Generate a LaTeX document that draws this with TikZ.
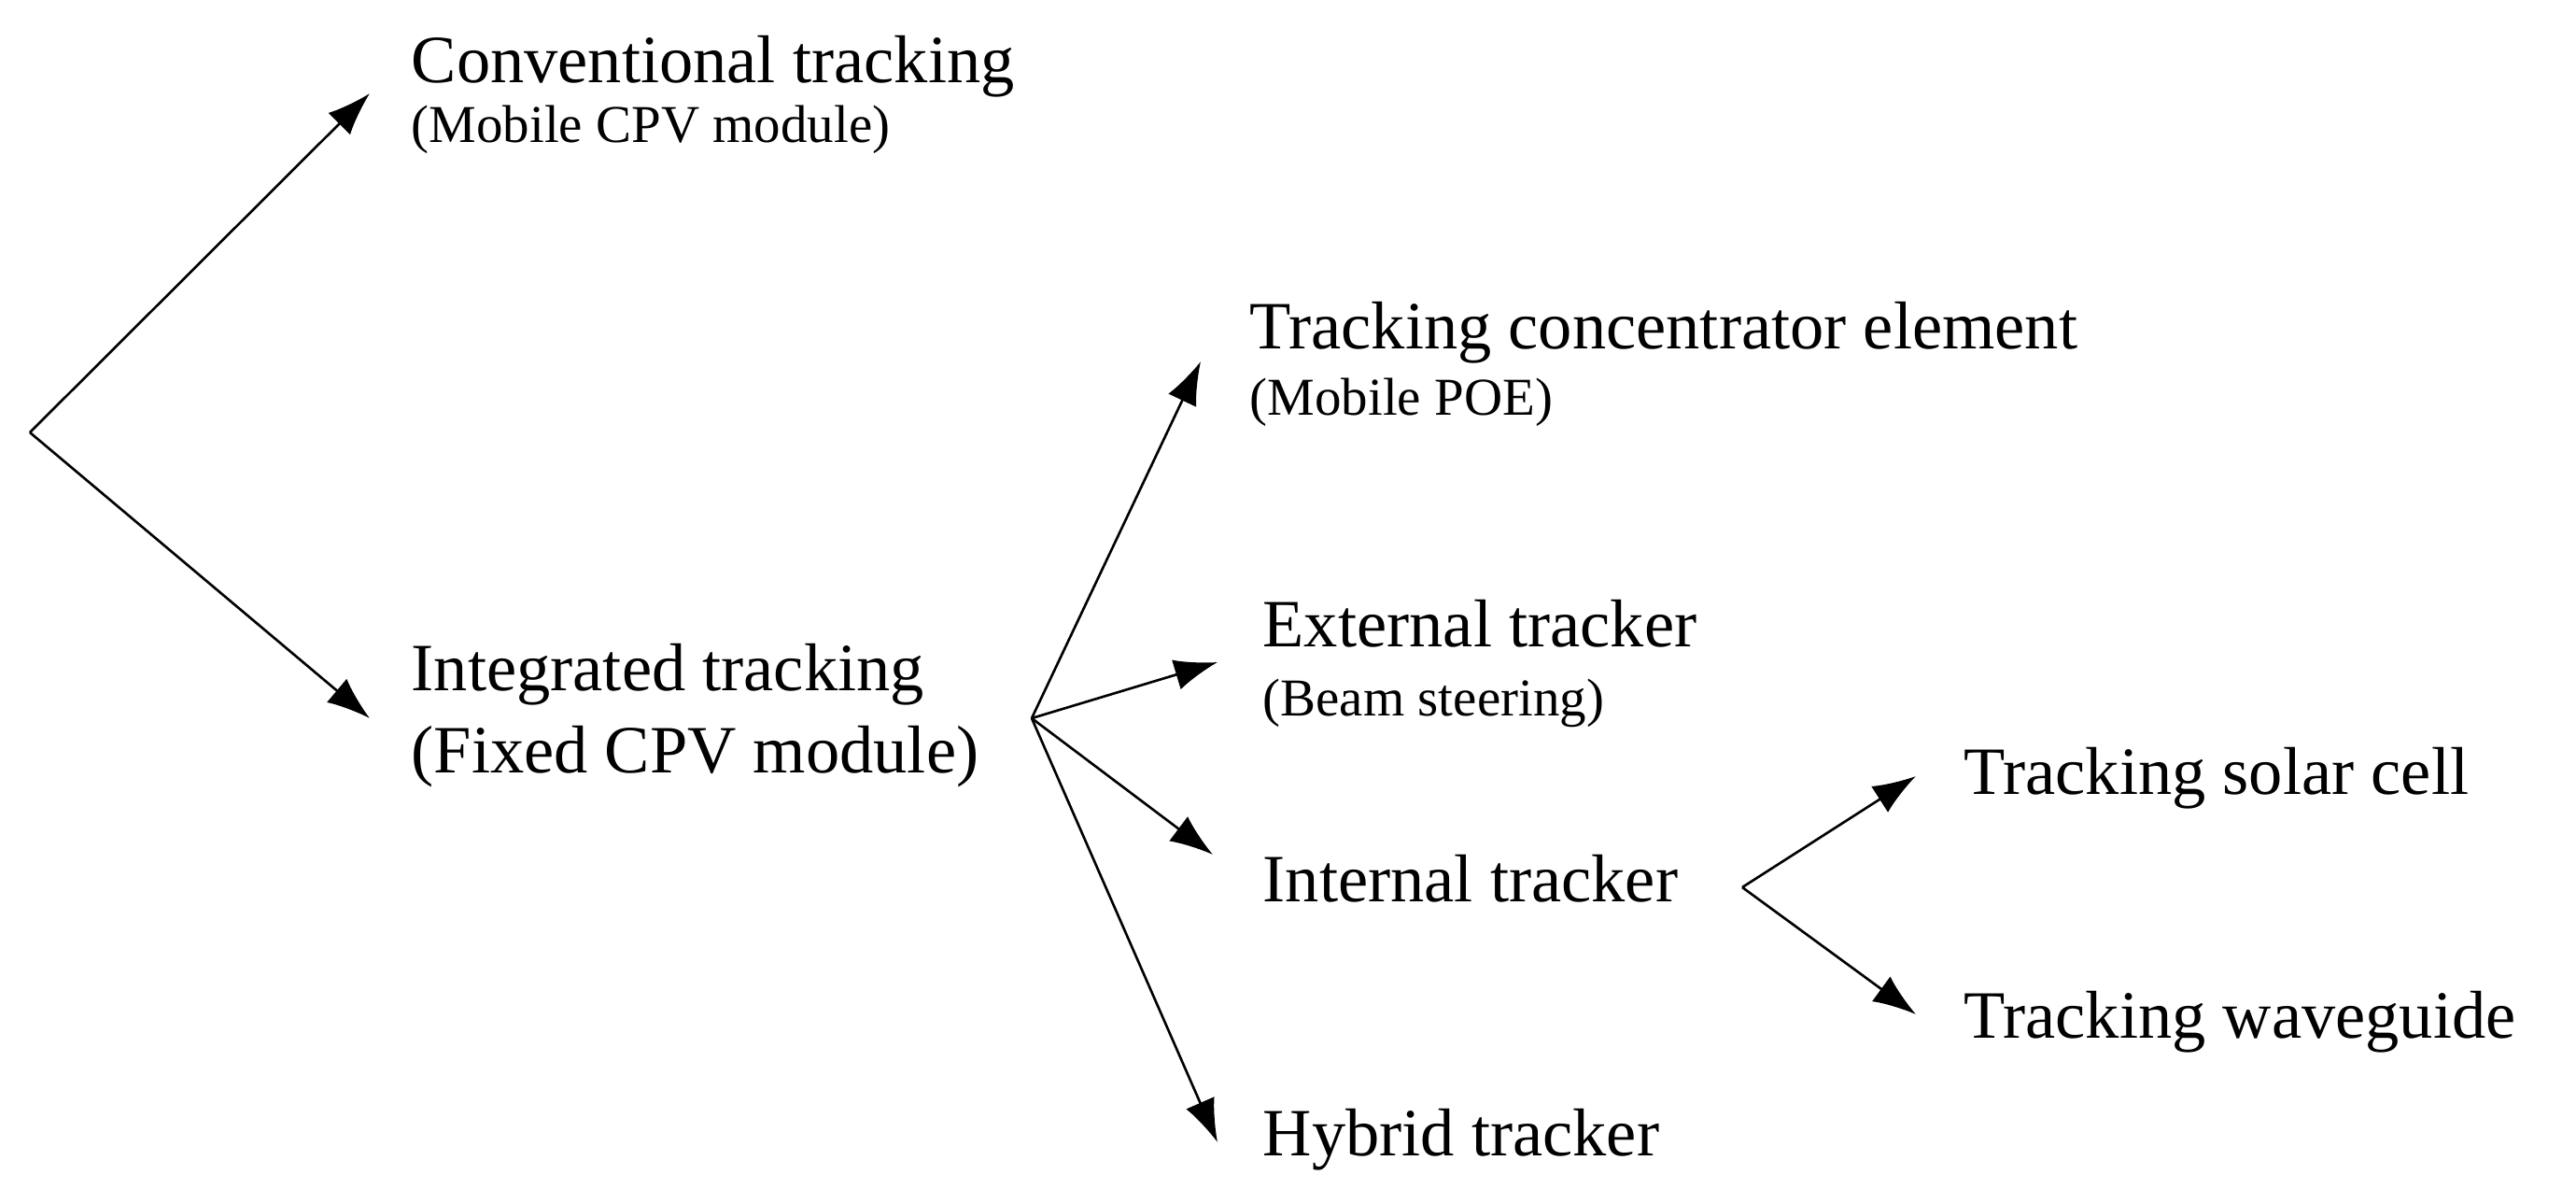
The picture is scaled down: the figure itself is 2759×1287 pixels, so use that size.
\documentclass[tikz,border=0pt]{standalone}
\usepackage{fontspec}
\setmainfont{Liberation Serif}
\usetikzlibrary{arrows.meta,positioning,calc}

\begin{document}
\begin{tikzpicture}[x=0.01cm,y=-0.01cm,
   lbl/.style={anchor=base west,inner sep=0pt,font=\fontsize{20.6}{24}\selectfont},
   sub/.style={anchor=base west,inner sep=0pt,font=\fontsize{16.2}{19}\selectfont},
   arr/.style={-{Latex[length=4.6mm,width=3.3mm]},line width=0.75pt}]
\useasboundingbox (0,0) rectangle (2759,1287);
\path   (32,463)   coordinate (root)
        (1105,769) coordinate (split)
        (1866,950) coordinate (inner);
\path   (396,100)  coordinate (tconv)
        (396,769)  coordinate (tinteg)
        (1286,387) coordinate (ttce)
        (1304,709) coordinate (text)
        (1299,915) coordinate (tint)
        (1304,1223) coordinate (thyb)
        (2052,831) coordinate (tsolar)
        (2052,1086) coordinate (twave);
\node[lbl] (conv)  at (440,88)   {Conventional tracking};
\node[lbl] (integ) at (440,739)  {Integrated tracking};
\node[lbl] (tce)   at (1338,373) {Tracking concentrator element};
\node[lbl] (ext)   at (1352,692) {External tracker};
\node[lbl] (int)   at (1352,965) {Internal tracker};
\node[lbl] (hyb)   at (1352,1237) {Hybrid tracker};
\node[lbl] (solar) at (2103,850) {Tracking solar cell};
\node[lbl] (wave)  at (2103,1111) {Tracking waveguide};
\node[sub] (convsub)  at ($(conv.base west)+(0,64)$)  {(Mobile CPV module)};
\node[lbl] (integsub) at ($(integ.base west)+(0,88)$) {(Fixed CPV module)};
\node[sub] (tcesub)   at ($(tce.base west)+(0,71)$)   {(Mobile POE)};
\node[sub] (extsub)   at ($(ext.base west)+(0,74)$)   {(Beam steering)};
\draw[arr] (root) -- (tconv);
\draw[arr] (root) -- (tinteg);
\draw[arr] (split) -- (ttce);
\draw[arr] (split) -- (text);
\draw[arr] (split) -- (tint);
\draw[arr] (split) -- (thyb);
\draw[arr] (inner) -- (tsolar);
\draw[arr] (inner) -- (twave);
\end{tikzpicture}
\end{document}
